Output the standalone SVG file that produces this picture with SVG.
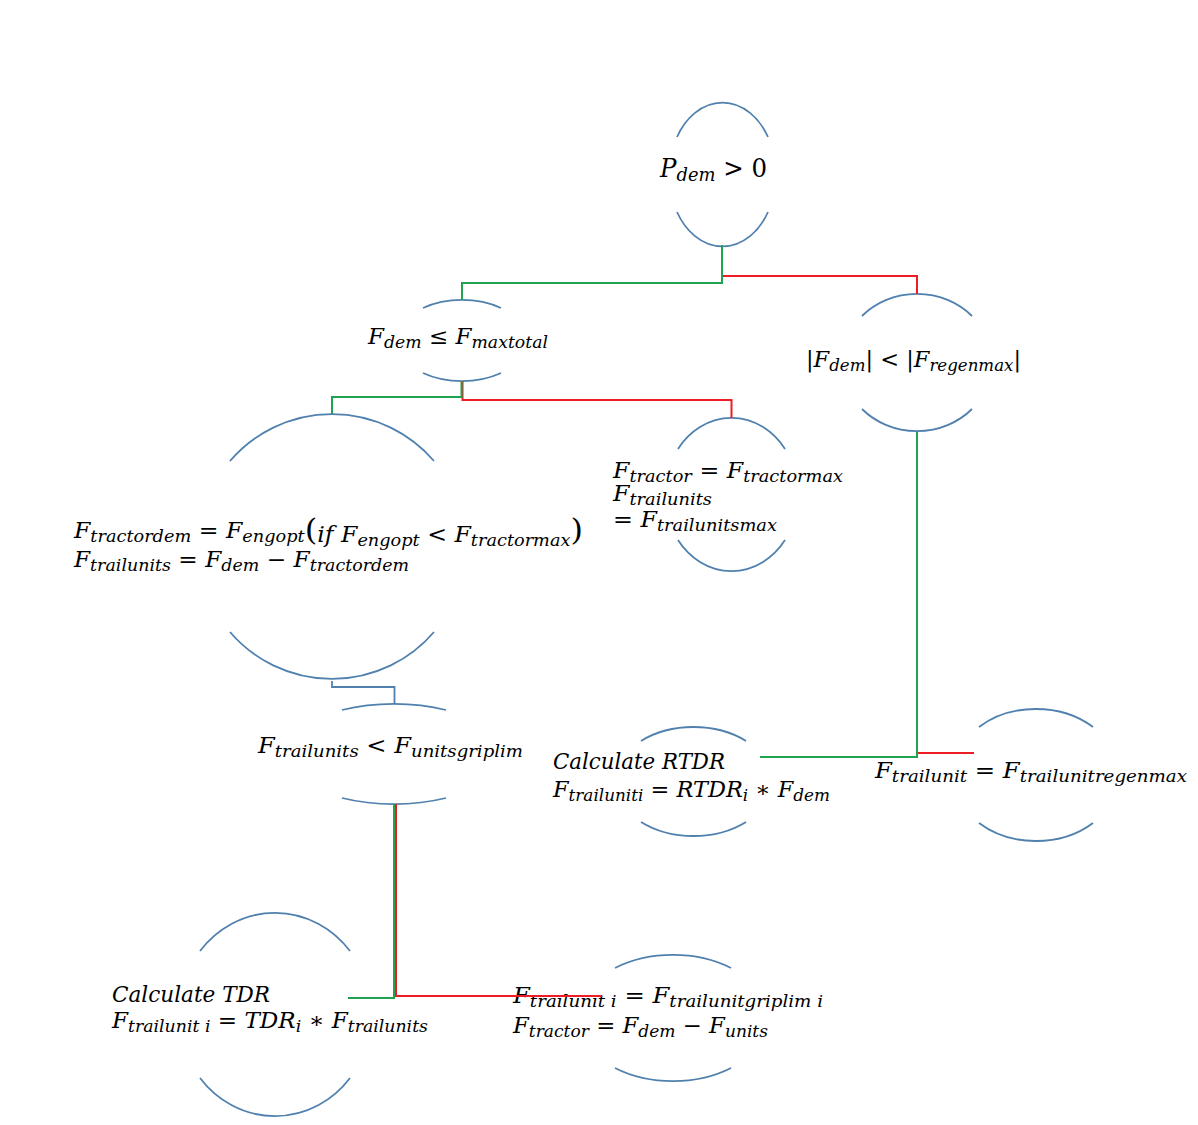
<svg xmlns="http://www.w3.org/2000/svg" width="1198" height="1125" viewBox="0 0 1198 1125">
<style>
.arc{fill:none;stroke:#5080ae;stroke-width:1.8}
.g{fill:none;stroke:#1fa34f;stroke-width:2}
.r{fill:none;stroke:#ee1c24;stroke-width:2}
.b{fill:none;stroke:#5080ae;stroke-width:1.8}
.m{font-family:"DejaVu Serif","Liberation Serif",serif;font-style:italic;font-size:22px;fill:#000}
.s{font-size:16.5px}
.u{font-style:normal}
</style>
<rect width="1198" height="1125" fill="#fff"/>

<g id="n1">
<path class="arc" d="M677,137 A53,70.5 0 0 1 768,137"/>
<path class="arc" d="M677,212 A53,70.5 0 0 0 768,212"/>
<text class="m" x="660" y="177" style="font-size:26px" textLength="107" lengthAdjust="spacingAndGlyphs">P<tspan style="font-size:19px" dy="4">dem</tspan><tspan class="u" dy="-4"> &gt; 0</tspan></text>
</g>

<g id="n2">
<path class="arc" d="M423,308 A65,40.5 0 0 1 501,308"/>
<path class="arc" d="M423,373 A65,40.5 0 0 0 501,373"/>
<text class="m" x="368" y="344" textLength="180" lengthAdjust="spacingAndGlyphs">F<tspan class="s" dy="4">dem</tspan><tspan class="u" dy="-4"> ≤ </tspan>F<tspan class="s" dy="4">maxtotal</tspan></text>
</g>

<g id="n3">
<path class="arc" d="M862,316 A75,69 0 0 1 972,316"/>
<path class="arc" d="M862,409 A75,69 0 0 0 972,409"/>
<text class="m" x="806" y="367" style="font-size:23px" textLength="215" lengthAdjust="spacingAndGlyphs"><tspan class="u">|</tspan>F<tspan style="font-size:17px" dy="4">dem</tspan><tspan class="u" dy="-4">| &lt; |</tspan>F<tspan style="font-size:17px" dy="4">regenmax</tspan><tspan class="u" dy="-4">|</tspan></text>
</g>

<g id="n4">
<path class="arc" d="M230,461 A134,133.5 0 0 1 434,461"/>
<path class="arc" d="M230,632 A134,133.5 0 0 0 434,632"/>
<text class="m" x="74" y="538" textLength="509" lengthAdjust="spacingAndGlyphs">F<tspan class="s" dy="4">tractordem</tspan><tspan class="u" dy="-4"> = </tspan>F<tspan class="s" dy="4">engopt</tspan><tspan class="u" dy="-2" style="font-size:30px">(</tspan><tspan dy="2">if F</tspan><tspan class="s" dy="4">engopt</tspan><tspan class="u" dy="-4"> &lt; </tspan>F<tspan class="s" dy="4">tractormax</tspan><tspan class="u" dy="-6" style="font-size:30px">)</tspan></text>
<text class="m" x="74" y="567" textLength="335" lengthAdjust="spacingAndGlyphs">F<tspan class="s" dy="4">trailunits</tspan><tspan class="u" dy="-4"> = </tspan>F<tspan class="s" dy="4">dem</tspan><tspan class="u" dy="-4"> − </tspan>F<tspan class="s" dy="4">tractordem</tspan></text>
</g>

<g id="n5">
<path class="arc" d="M678,449 A66.5,76.5 0 0 1 785,449"/>
<path class="arc" d="M678,540 A66.5,76.5 0 0 0 785,540"/>
<text class="m" x="613" y="478" textLength="230" lengthAdjust="spacingAndGlyphs">F<tspan class="s" dy="4">tractor</tspan><tspan class="u" dy="-4"> = </tspan>F<tspan class="s" dy="4">tractormax</tspan></text>
<text class="m" x="613" y="501" textLength="99" lengthAdjust="spacingAndGlyphs">F<tspan class="s" dy="4">trailunits</tspan></text>
<text class="m" x="613" y="527" textLength="164" lengthAdjust="spacingAndGlyphs"><tspan class="u">= </tspan>F<tspan class="s" dy="4">trailunitsmax</tspan></text>
</g>

<g id="n6">
<path class="arc" d="M342,710 A109,50 0 0 1 446,710"/>
<path class="arc" d="M342,798 A109,50 0 0 0 446,798"/>
<text class="m" x="258" y="753" textLength="265" lengthAdjust="spacingAndGlyphs">F<tspan class="s" dy="4">trailunits</tspan><tspan class="u" dy="-4"> &lt; </tspan>F<tspan class="s" dy="4">unitsgriplim</tspan></text>
</g>

<g id="n7">
<path class="arc" d="M641,741 A78.5,54.5 0 0 1 746,741"/>
<path class="arc" d="M641,822 A78.5,54.5 0 0 0 746,822"/>
<text class="m" x="553" y="769" textLength="172" lengthAdjust="spacingAndGlyphs">Calculate RTDR</text>
<text class="m" x="553" y="797" textLength="277" lengthAdjust="spacingAndGlyphs">F<tspan class="s" dy="4">trailuniti</tspan><tspan class="u" dy="-4"> = </tspan>RTDR<tspan class="s" dy="4">i</tspan><tspan class="u" dy="-4"> ∗ </tspan>F<tspan class="s" dy="4">dem</tspan></text>
</g>

<g id="n8">
<path class="arc" d="M979,727 A83,66 0 0 1 1093,727"/>
<path class="arc" d="M979,823 A83,66 0 0 0 1093,823"/>
<text class="m" x="875" y="778" textLength="312" lengthAdjust="spacingAndGlyphs">F<tspan class="s" dy="4">trailunit</tspan><tspan class="u" dy="-4"> = </tspan>F<tspan class="s" dy="4">trailunitregenmax</tspan></text>
</g>

<g id="n9">
<path class="arc" d="M200,951 A96,101.5 0 0 1 350,951"/>
<path class="arc" d="M200,1078 A96,101.5 0 0 0 350,1078"/>
<text class="m" x="112" y="1002" textLength="158" lengthAdjust="spacingAndGlyphs">Calculate TDR</text>
<text class="m" x="112" y="1028" textLength="316" lengthAdjust="spacingAndGlyphs">F<tspan class="s" dy="4">trailunit i</tspan><tspan class="u" dy="-4"> = </tspan>TDR<tspan class="s" dy="4">i</tspan><tspan class="u" dy="-4"> ∗ </tspan>F<tspan class="s" dy="4">trailunits</tspan></text>
</g>

<g id="n10">
<path class="arc" d="M615,968 A95,63 0 0 1 731,968"/>
<path class="arc" d="M615,1068 A95,63 0 0 0 731,1068"/>
<text class="m" x="513" y="1003" textLength="310" lengthAdjust="spacingAndGlyphs">F<tspan class="s" dy="4">trailunit i</tspan><tspan class="u" dy="-4"> = </tspan>F<tspan class="s" dy="4">trailunitgriplim i</tspan></text>
<text class="m" x="513" y="1033" textLength="255" lengthAdjust="spacingAndGlyphs">F<tspan class="s" dy="4">tractor</tspan><tspan class="u" dy="-4"> = </tspan>F<tspan class="s" dy="4">dem</tspan><tspan class="u" dy="-4"> − </tspan>F<tspan class="s" dy="4">units</tspan></text>
</g>

<g id="connectors">
<path class="r" d="M722,245 V276 H917 V294"/>
<path class="g" d="M722,245 V283 H462 V300"/>
<path class="r" d="M462.5,381 V400 H731.5 V418"/>
<path class="g" d="M461.5,381 V397 H332 V414"/>
<path class="b" d="M332,681 V687 H394.5 V704"/>
<path class="r" d="M396,804 V996 H602"/>
<path class="g" d="M394,804 V998 H348"/>
<path class="r" d="M917,432 V753 H974"/>
<path class="g" d="M917,432 V757 H760"/>
</g>
</svg>
